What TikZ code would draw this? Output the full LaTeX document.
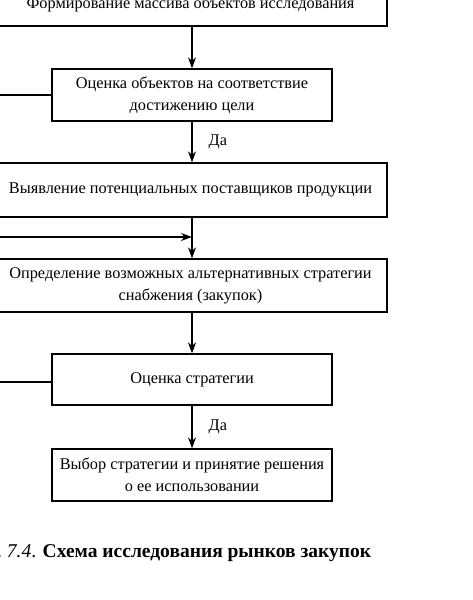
\documentclass[tikz,border=0pt]{standalone}
\usepackage{fontspec}
\setmainfont{Liberation Serif}
\usetikzlibrary{arrows.meta}
\begin{document}
\begin{tikzpicture}[x=1pt,y=-1pt,
  box/.style={draw, line width=1.3pt, align=center, inner sep=0pt,
    font=\fontsize{16.3}{22}\selectfont},
  arr/.style={-{Stealth[length=11pt,width=8pt]}, line width=1.3pt},
  ln/.style={line width=1.3pt},
  lbl/.style={font=\fontsize{16.3}{18}\selectfont, anchor=west, inner sep=0pt}]
\useasboundingbox (0,0) rectangle (472,600);
\clip (0,0) rectangle (472,600);
% boxes
\node[box, minimum width=393pt, minimum height=44pt] (b1) at (190.5,4) {Формирование массива объектов исследования};
\node[box, minimum width=280pt, minimum height=52pt] (b2) at (192,95) {Оценка объектов на соответствие\\достижению цели};
\node[box, minimum width=393pt, minimum height=54pt] (b3) at (190.5,190) {Выявление потенциальных поставщиков продукции};
\node[box, minimum width=393pt, minimum height=53pt] (b4) at (190.5,285.5) {Определение возможных альтернативных стратегии\\снабжения (закупок)};
\node[box, minimum width=280pt, minimum height=51pt] (b5) at (192,379.5) {Оценка стратегии};
\node[box, minimum width=280pt, minimum height=52pt] (b6) at (192,475) {Выбор стратегии и принятие решения\\о ее использовании};
% free ends
\coordinate (l2) at (-5,95);
\coordinate (l3) at (-5,237);
\coordinate (m3) at (192,237);
\coordinate (l5) at (-5,382);
% connectors
\draw[arr] (b1.south -| b2.center) -- (b2.north);
\draw[arr] (b2.south) -- node[lbl, right=16pt, pos=0.5] (d1) {Да} (b3.north -| b2.center);
\draw[arr] (b3.south -| b2.center) -- (b4.north -| b2.center);
\draw[arr] (l3) -- (m3);
\draw[arr] (b4.south -| b2.center) -- (b5.north);
\draw[arr] (b5.south) -- node[lbl, right=16pt, pos=0.5] (d2) {Да} (b6.north);
\draw[ln] (l2) -- (b2.west);
\draw[ln] (l5) -- (b5.west |- l5);
% caption
\node[anchor=base west, inner sep=0pt, font=\fontsize{19.5}{22}\selectfont] (cap) at (-3,557) {.\ \textit{7.4}. \textbf{Схема исследования рынков закупок}};
\end{tikzpicture}
\end{document}
